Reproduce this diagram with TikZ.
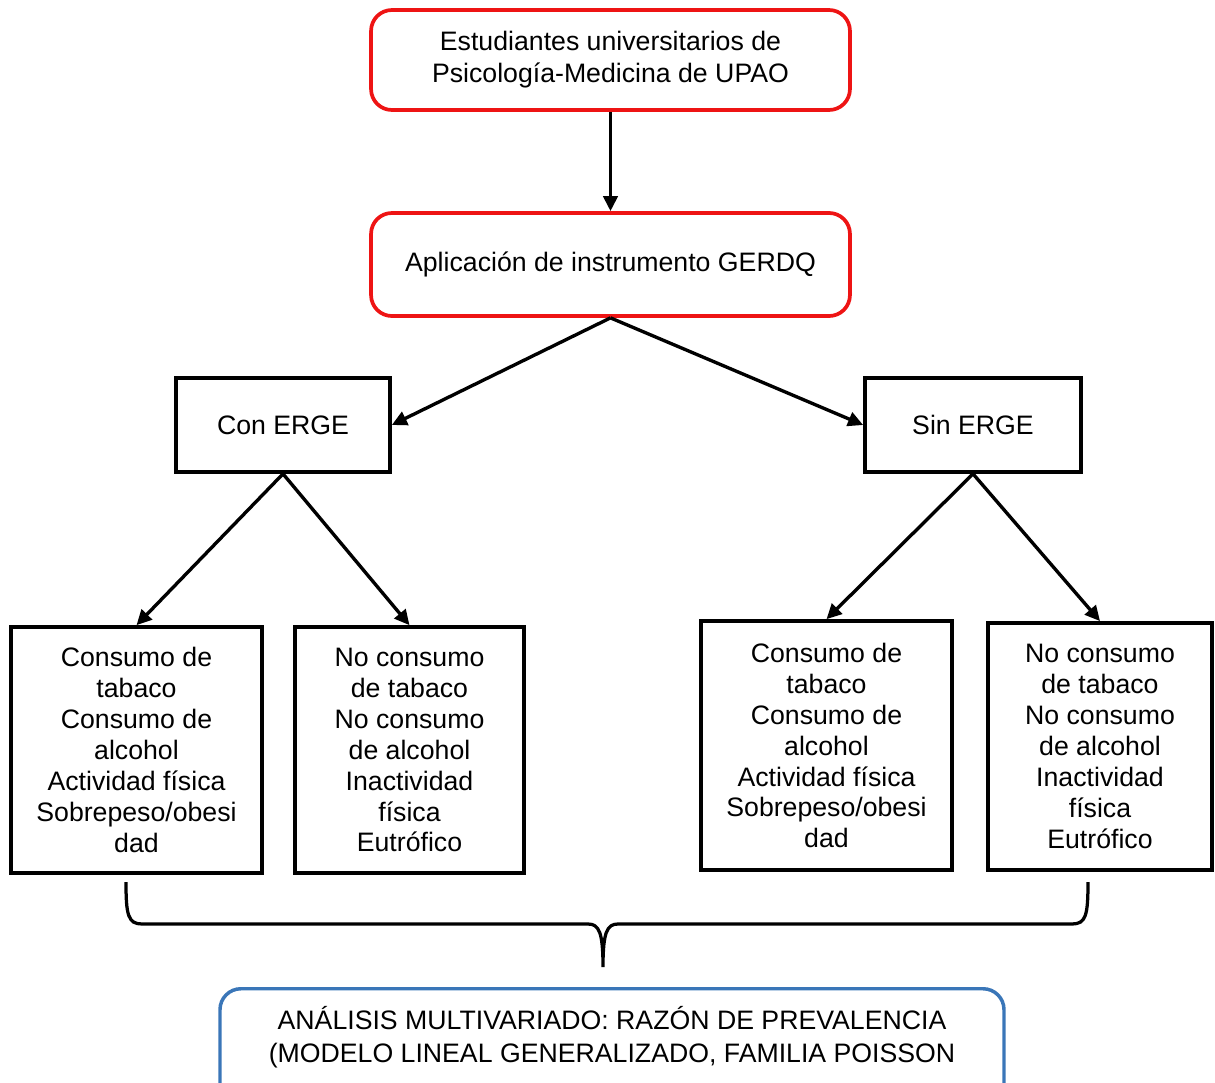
\documentclass[tikz,border=0pt]{standalone}
\usepackage{fontspec}
\setmainfont{Liberation Sans}
\usetikzlibrary{arrows.meta}
\definecolor{boxred}{RGB}{238,20,20}
\definecolor{boxblue}{RGB}{58,118,184}
\begin{document}
\begin{tikzpicture}[x=0.431pt,y=-0.431pt,
  redbox/.style={draw=boxred,line width=1.6pt,rounded corners=9pt,align=center,
    font=\fontsize{11.5}{13.8}\selectfont,inner sep=0pt},
  blackbox/.style={draw=black,line width=1.6pt,align=center,
    font=\fontsize{11.5}{13.35}\selectfont,inner sep=0pt},
  bluebox/.style={draw=boxblue,line width=1.5pt,rounded corners=9pt,inner sep=0pt},
  arr/.style={line width=1.45pt,-{Triangle[length=6.5pt,width=6.2pt]}},
  bracepath/.style={line width=1.4pt}]
\useasboundingbox (0,0) rectangle (1215,1083);
\clip (0,0) rectangle (1215,1083);

\node[redbox,minimum width=206.4pt,minimum height=43.1pt] (top) at (610.5,60)
  {Estudiantes universitarios de\\Psicología-Medicina de UPAO};
\node[redbox,minimum width=206.4pt,minimum height=44.4pt] (app) at (610.5,264.5)
  {Aplicación de instrumento GERDQ};

\node[blackbox,minimum width=92.2pt,minimum height=40.5pt] (con) at (283,425) {Con ERGE};
\node[blackbox,minimum width=93.1pt,minimum height=40.5pt] (sin) at (973,425) {Sin ERGE};

\node[blackbox,minimum width=108.2pt,minimum height=106pt] (l1) at (136.5,750)
  {Consumo de\\tabaco\\Consumo de\\alcohol\\Actividad física\\Sobrepeso/obesi\\dad};
\node[blackbox,minimum width=98.7pt,minimum height=106pt] (l2) at (409.5,750)
  {No consumo\\de tabaco\\No consumo\\de alcohol\\Inactividad\\física\\Eutrófico};
\node[blackbox,minimum width=108.2pt,minimum height=107.3pt] (r1) at (826.5,745.5)
  {Consumo de\\tabaco\\Consumo de\\alcohol\\Actividad física\\Sobrepeso/obesi\\dad};
\node[blackbox,minimum width=96.5pt,minimum height=106.5pt] (r2) at (1100,746.5)
  {No consumo\\de tabaco\\No consumo\\de alcohol\\Inactividad\\física\\Eutrófico};

\node[bluebox,minimum width=337.9pt,minimum height=51.7pt,anchor=north] (res) at (612,987)
  {};
\node[font=\fontsize{11.5}{14.2}\selectfont,align=center,inner sep=0pt] (restext) at (612,1037)
  {ANÁLISIS MULTIVARIADO: RAZÓN DE PREVALENCIA\\(MODELO LINEAL GENERALIZADO, FAMILIA POISSON};

\draw[arr] (top.south) -- (app.north);
\draw[arr] (app.south) -- (con.east);
\draw[arr] (app.south) -- (sin.west);
\draw[arr] (con.south) -- (l1.north);
\draw[arr] (con.south) -- (l2.north);
\draw[arr] (sin.south) -- (r1.north);
\draw[arr] (sin.south) -- (r2.north);

\coordinate (bl) at (126,882);
\coordinate (br) at (1088,882);
\coordinate (bm) at (603,967);
\draw[bracepath] (bl) .. controls (126,915) and (128,924) .. (142,924) -- (588,924)
  .. controls (599,924) and (603,932) .. (bm)
  .. controls (603,932) and (607,924) .. (618,924) -- (1072,924)
  .. controls (1086,924) and (1088,915) .. (br);
\end{tikzpicture}
\end{document}
